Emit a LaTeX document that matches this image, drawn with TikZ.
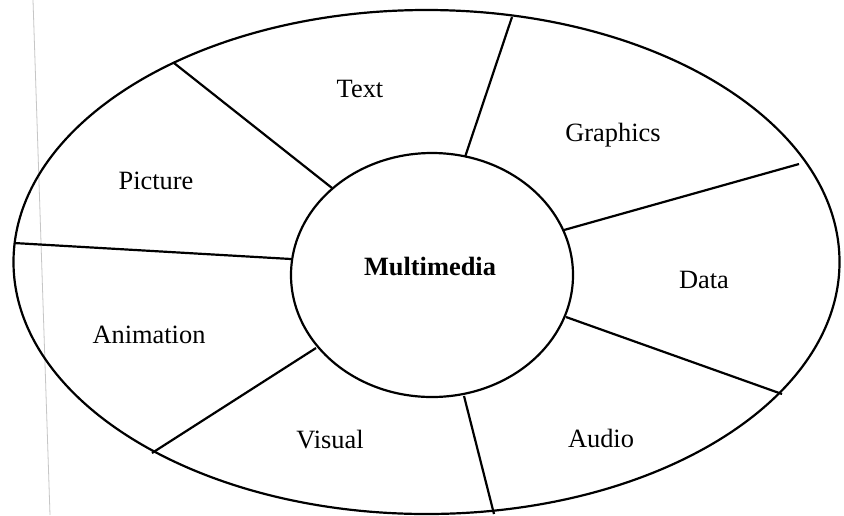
\documentclass[tikz,border=0pt]{standalone}
\usepackage{fontspec}
\setmainfont{Liberation Serif}
\usetikzlibrary{shapes.geometric}
\begin{document}
\begin{tikzpicture}[x=0.5pt,y=-0.5pt,
  rim/.style={line width=1.1pt, draw=black},
  divider/.style={line width=1.1pt, draw=black},
  lbl/.style={anchor=base, inner sep=0pt, font=\fontsize{13.2}{15}\selectfont},
  scanline/.style={draw=gray!45, line width=0.4pt}]
\useasboundingbox (0,0) rectangle (844,515);
\fill[white] (0,0) rectangle (844,515);
% faint scan margin line
\coordinate (scanA) at (33,0);
\coordinate (scanB) at (50,515);
\draw[scanline] (scanA) -- (scanB);
% outer ellipse
\draw[rim] (426.5,262) ellipse [x radius=413, y radius=252];
% inner ellipse
\node[rim, ellipse, minimum width=141pt, minimum height=122pt, inner sep=0pt] (mm) at (432,275) {};
% divider end points (inner, outer)
\coordinate (i1) at (332,188); \coordinate (o1) at (174,63);
\coordinate (i2) at (465,157); \coordinate (o2) at (512,17);
\coordinate (i3) at (564,230); \coordinate (o3) at (799,164);
\coordinate (i4) at (566,317); \coordinate (o4) at (782,394);
\coordinate (i5) at (464,396); \coordinate (o5) at (494,514);
\coordinate (i6) at (316,348); \coordinate (o6) at (152,453);
\coordinate (i7) at (291,259); \coordinate (o7) at (14,243);
\foreach \k in {1,...,7} {\draw[divider] (i\k) -- (o\k);}
% labels
\node[lbl] (mmtext) at (430,275) {\bfseries Multimedia};
\node[lbl] (text) at (360,97) {Text};
\node[lbl] (graphics) at (613,141) {Graphics};
\node[lbl] (picture) at (156,189) {Picture};
\node[lbl] (data) at (704,288) {Data};
\node[lbl] (animation) at (149,343) {Animation};
\node[lbl] (visual) at (330,448) {Visual};
\node[lbl] (audio) at (601,447) {Audio};
\end{tikzpicture}
\end{document}
